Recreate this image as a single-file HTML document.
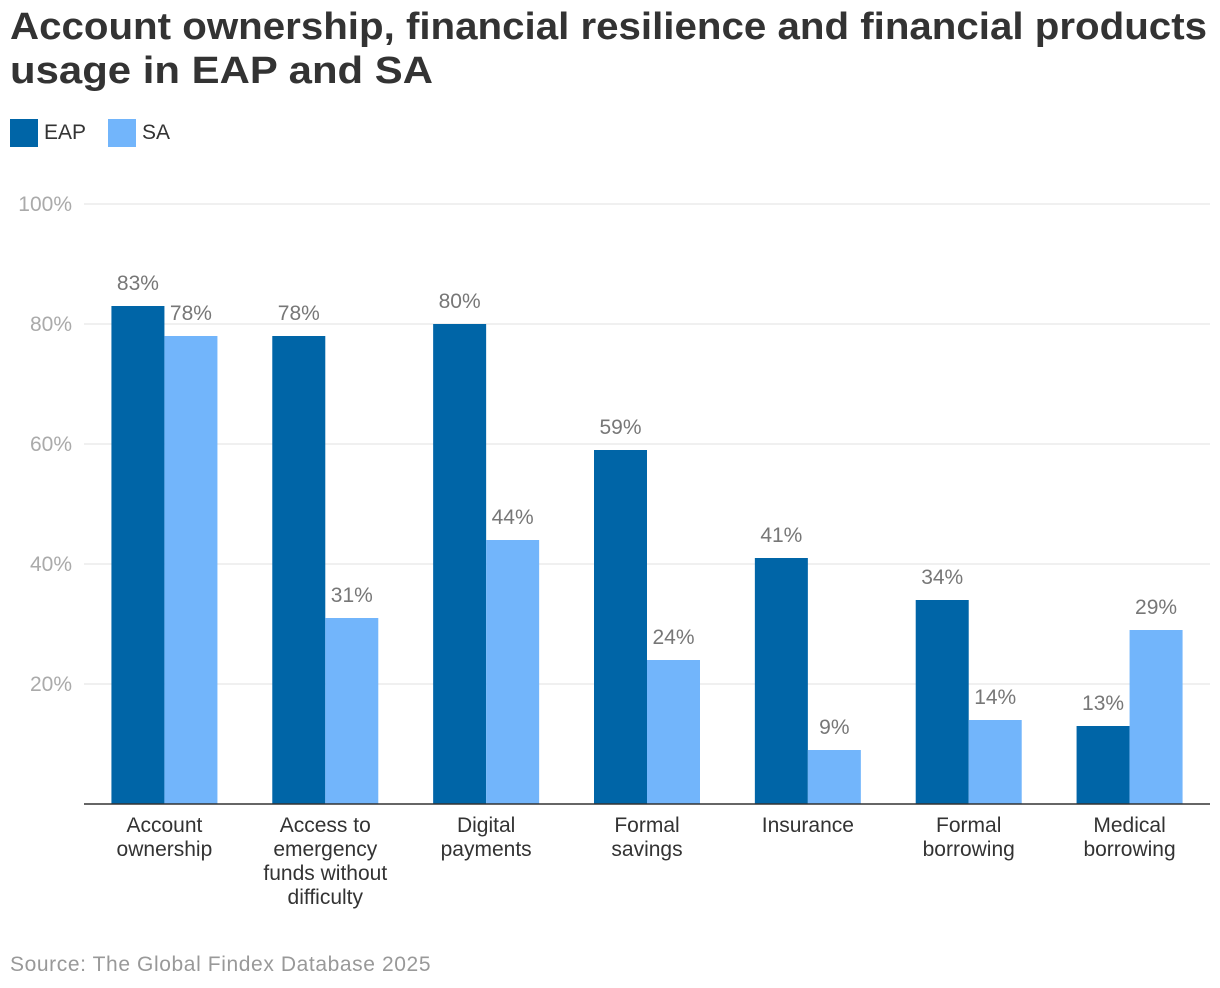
<!DOCTYPE html>
<html>
<head>
<meta charset="utf-8">
<style>
  body { margin:0; background:#fff; width:1220px; height:988px; overflow:hidden; font-family:"Liberation Sans", Arial, sans-serif; }
  .legend { position:absolute; top:119px; left:10px; display:flex; align-items:center; font-size:21px; color:#333; }
  .sw { width:28px; height:28px; margin-right:6px; }
  .src { position:absolute; left:10px; top:953px; font-size:21px; color:#999; letter-spacing:0.6px; }
</style>
</head>
<body>
<svg width="1220" height="100" style="position:absolute;left:0;top:0">
  <text x="10" y="39" font-size="38" font-weight="bold" fill="#333" font-family="Liberation Sans, sans-serif" textLength="1197" lengthAdjust="spacingAndGlyphs">Account ownership, financial resilience and financial products</text>
  <text x="10" y="83" font-size="38" font-weight="bold" fill="#333" font-family="Liberation Sans, sans-serif" textLength="423" lengthAdjust="spacingAndGlyphs">usage in EAP and SA</text>
</svg>
<div class="legend">
  <div class="sw" style="background:#0065a7"></div><span style="margin-right:22px">EAP</span>
  <div class="sw" style="background:#72b5fb"></div><span>SA</span>
</div>
<svg id="chart" width="1220" height="988" style="position:absolute;left:0;top:0"></svg>
<div class="src">Source: The Global Findex Database 2025</div>
<script>
const categories = [["Account","ownership"],["Access to","emergency","funds without","difficulty"],["Digital","payments"],["Formal","savings"],["Insurance"],["Formal","borrowing"],["Medical","borrowing"]];
const eapValues = [83,78,80,59,41,34,13];
const saValues = [78,31,44,24,9,14,29];
const yTicks = [20,40,60,80,100];

const svg = document.getElementById('chart');
const NS = 'http://www.w3.org/2000/svg';
const x0 = 84, x1 = 1210, yBase = 804, pxPer = 6;
const gw = (x1 - x0) / categories.length, bw = 53;
const y = v => yBase - v * pxPer;
function mk(tag, attrs, text) {
  const e = document.createElementNS(NS, tag);
  for (const k in attrs) e.setAttribute(k, attrs[k]);
  if (text !== undefined) e.textContent = text;
  svg.appendChild(e);
  return e;
}
yTicks.forEach(t => {
  const g = mk('line', {x1:x0, x2:x1, y1:y(t), y2:y(t), stroke:'#e0e0e0', 'stroke-width':1});
  
  
  const l = mk('text', {x:72, y:y(t)+7, 'text-anchor':'end', 'font-size':21, fill:'#aaa', 'font-family':'Liberation Sans, sans-serif'}, t + '%');
  
  
});
categories.forEach((c, i) => {
  const cx = x0 + gw * (i + 0.5);
  [[eapValues[i], cx - bw, '#0065a7', 'eap'], [saValues[i], cx, '#72b5fb', 'sa']].forEach(([v, bx, col, s]) => {
    const r = mk('rect', {x:bx, y:y(v), width:bw, height:v*pxPer, fill:col});
    
    
    const t = mk('text', {x:bx + bw/2, y:y(v) - 16, 'text-anchor':'middle', 'font-size':21, fill:'#777', 'font-family':'Liberation Sans, sans-serif'}, v + '%');
    
    
  });
  c.forEach((line, j) => {
    const t = mk('text', {x:cx, y:832 + j*24, 'text-anchor':'middle', 'font-size':21, fill:'#333', 'font-family':'Liberation Sans, sans-serif'}, line);
    
    
  });
});
const ax = mk('line', {x1:x0, x2:x1, y1:yBase, y2:yBase, stroke:'#333', 'stroke-width':1.5});


</script>
</body>
</html>
